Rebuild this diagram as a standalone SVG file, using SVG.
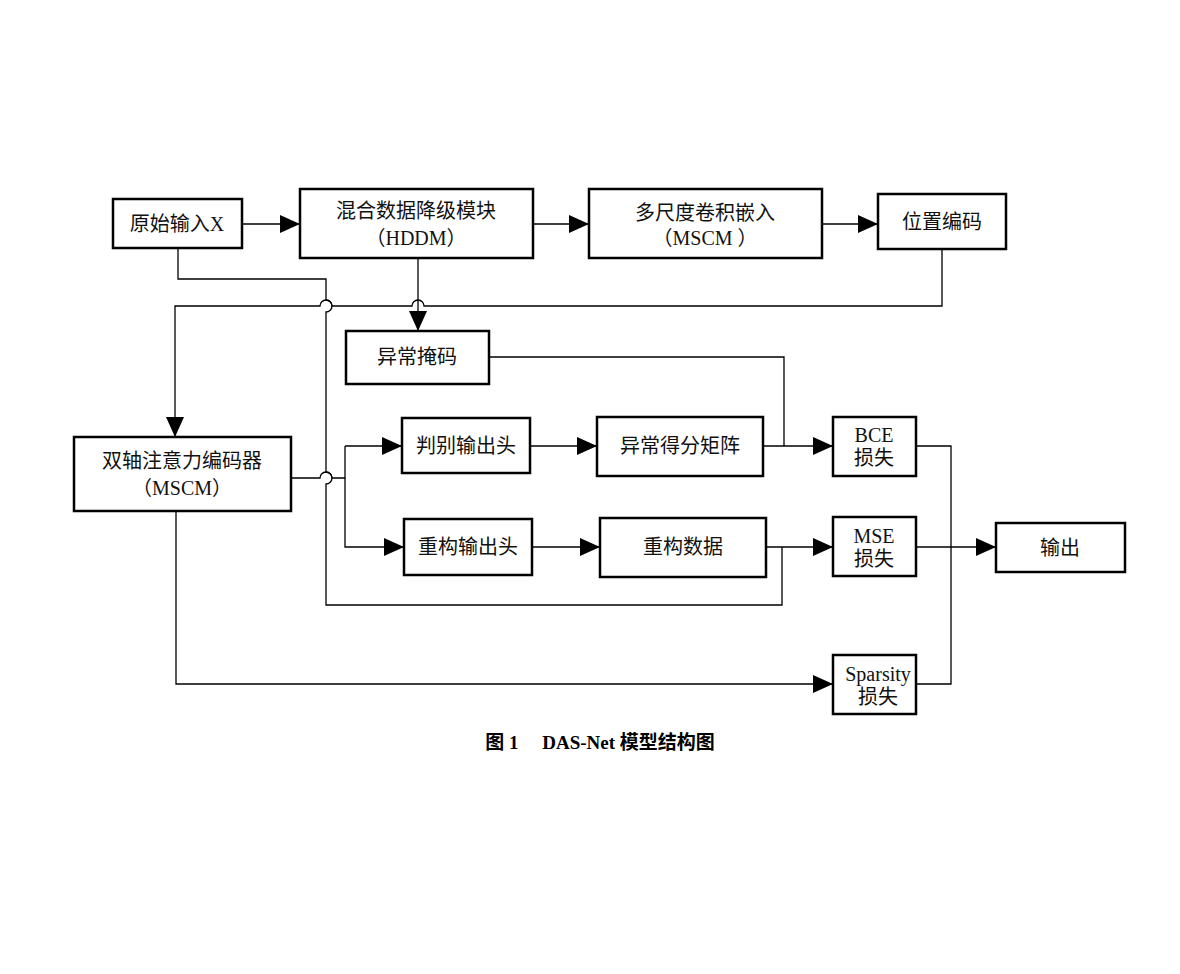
<svg xmlns="http://www.w3.org/2000/svg" width="1180" height="974" viewBox="0 0 1180 974">
<defs>
<marker id="a" markerWidth="20" markerHeight="18" refX="20" refY="9" orient="auto" markerUnits="userSpaceOnUse"><path d="M0,0 L20,9 L0,18 Z" fill="#000"/></marker>
<style>
.b{fill:#fff;stroke:#000;stroke-width:2.5}
.t{font-family:"Liberation Serif","Noto Sans CJK SC",serif;font-size:20px;text-anchor:middle;fill:#111}
.c path{fill:none;stroke:#000;stroke-width:1.3}
.c .ar{marker-end:url(#a)}
</style>
</defs>
<rect width="1180" height="974" fill="#fff"/>
<g class="c">
<path class="ar" d="M242,224 H300"/>
<path class="ar" d="M533,224 H589"/>
<path class="ar" d="M822,224 H878"/>
<path d="M178,248 V279 H326 V300 A6,6 0 0 1 326,312 V472 A6,6 0 0 1 326,484 V605 H782 V547"/>
<path class="ar" d="M942,249 V306 H424 A6,6 0 0 0 412,306 H332 A6,6 0 0 0 320,306 H175 V437"/>
<path class="ar" d="M418,258 V331"/>
<path d="M489,357 H784 V446"/>
<path d="M291,478 H320 A6,6 0 0 1 332,478 H345 V446"/>
<path class="ar" d="M345,446 H402"/>
<path class="ar" d="M345,478 V547 H404"/>
<path class="ar" d="M530,446 H597"/>
<path class="ar" d="M763,446 H833"/>
<path class="ar" d="M532,547 H600"/>
<path class="ar" d="M766,547 H833"/>
<path d="M916,446 H951 V684 H916"/>
<path class="ar" d="M916,547 H996"/>
<path class="ar" d="M176,511 V684 H833"/>
</g>
<g id="n1"><rect class="b" x="113" y="199" width="129" height="49"/><text class="t" x="177" y="231">原始输入X</text></g>
<g id="n2"><rect class="b" x="300" y="189" width="233" height="69"/><text class="t" x="416" y="218">混合数据降级模块</text><text class="t" x="416" y="245">（HDDM）</text></g>
<g id="n3"><rect class="b" x="589" y="189" width="233" height="69"/><text class="t" x="705" y="220">多尺度卷积嵌入</text><text class="t" x="705" y="245">（MSCM ）</text></g>
<g id="n4"><rect class="b" x="878" y="194" width="128" height="55"/><text class="t" x="942" y="229">位置编码</text></g>
<g id="n5"><rect class="b" x="346" y="331" width="143" height="53"/><text class="t" x="417" y="364">异常掩码</text></g>
<g id="n6"><rect class="b" x="74" y="437" width="217" height="74"/><text class="t" x="182" y="468">双轴注意力编码器</text><text class="t" x="182" y="495">（MSCM）</text></g>
<g id="n7"><rect class="b" x="402" y="418" width="128" height="55"/><text class="t" x="466" y="453">判别输出头</text></g>
<g id="n8"><rect class="b" x="597" y="417" width="166" height="59"/><text class="t" x="680" y="453">异常得分矩阵</text></g>
<g id="n9"><rect class="b" x="833" y="417" width="83" height="59"/><text class="t" x="874" y="442">BCE</text><text class="t" x="874" y="465">损失</text></g>
<g id="n10"><rect class="b" x="404" y="519" width="128" height="56"/><text class="t" x="468" y="554">重构输出头</text></g>
<g id="n11"><rect class="b" x="600" y="518" width="166" height="59"/><text class="t" x="683" y="554">重构数据</text></g>
<g id="n12"><rect class="b" x="833" y="517" width="83" height="59"/><text class="t" x="874" y="543">MSE</text><text class="t" x="874" y="566">损失</text></g>
<g id="n13"><rect class="b" x="996" y="523" width="129" height="49"/><text class="t" x="1060" y="555">输出</text></g>
<g id="n14"><rect class="b" x="833" y="655" width="83" height="59"/><text class="t" x="878" y="681">Sparsity</text><text class="t" x="878" y="704">损失</text></g>
<text x="600" y="749" style="font-family:'Liberation Serif','Noto Sans CJK SC',serif;font-size:19px;font-weight:bold;text-anchor:middle">图 1　 DAS-Net 模型结构图</text>
</svg>
